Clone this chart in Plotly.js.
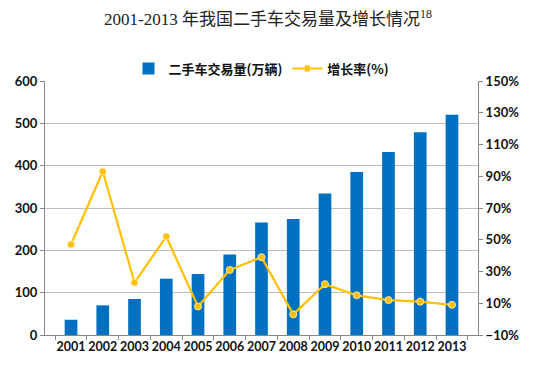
<!DOCTYPE html>
<html>
<head>
<meta charset="utf-8">
<script src="https://cdn.plot.ly/plotly-3.0.1.min.js"></script>
<style>html,body{margin:0;padding:0;background:#fff;}#chart{width:536px;height:380px;}</style>
</head>
<body>
<div id="chart"></div>
<script>
const years = ['2001','2002','2003','2004','2005','2006','2007','2008','2009','2010','2011','2012','2013'];
const volume = [36, 70, 85, 133, 144, 190, 266, 274, 334, 385, 432, 479, 520];
const growth = [47, 93, 23, 52, 8, 31, 39, 3, 22, 15, 12, 11, 9];
const volumeName = '二手车交易量(万辆)';
const growthName = '增长率(%)';
const titleText = '2001-2013 年我国二手车交易量及增长情况<sup>18</sup>';

const tickFont = {family: 'Lato, "Liberation Sans", sans-serif', size: 13, color: '#111', weight: 'bold'};
const xTickFont = {family: 'Lato, "Liberation Sans", sans-serif', size: 12.5, color: '#111', weight: 'bold'};

const traces = [
  {
    type: 'bar', x: years, y: volume, name: volumeName,
    marker: {color: '#0070C0'}, width: 0.4, yaxis: 'y'
  },
  {
    type: 'scatter', mode: 'lines+markers', x: years, y: growth, name: growthName,
    yaxis: 'y2',
    line: {color: '#FFC000', width: 2.2},
    marker: {color: '#FFC000', size: 7, line: {color: '#FFE9A8', width: 1}}
  }
];

const layout = {
  width: 536, height: 380,
  margin: {l: 45, r: 58, t: 81, b: 45},
  paper_bgcolor: '#fff', plot_bgcolor: '#fff',
  title: {
    text: titleText, x: 0.5, xanchor: 'center', y: 0.95, yanchor: 'middle',
    font: {family: '"Liberation Serif", "Noto Sans CJK SC", serif', size: 17, color: '#222'}
  },
  showlegend: true,
  legend: {
    orientation: 'h', x: 0.5, xanchor: 'center', y: 0.99, yanchor: 'bottom',
    yref: 'paper',
    font: {family: '"Noto Sans CJK SC", sans-serif', size: 13, color: '#111', weight: 'bold'},
    itemwidth: 30, traceorder: 'normal', bgcolor: 'rgba(0,0,0,0)'
  },
  xaxis: {
    type: 'category', tickfont: xTickFont, tickangle: 0,
    showline: true, linecolor: '#888', linewidth: 1,
    ticks: 'outside', tickson: 'boundaries', ticklen: 4, tickcolor: '#888',
    showgrid: false, zeroline: false
  },
  yaxis: {
    range: [0, 600], dtick: 100, tickfont: tickFont,
    showline: true, linecolor: '#888', linewidth: 1,
    ticks: 'outside', ticklen: 4, tickcolor: '#888',
    showgrid: true, gridcolor: '#bdbdbd', gridwidth: 1, zeroline: false
  },
  yaxis2: {
    overlaying: 'y', side: 'right', range: [-10, 150], dtick: 20, tick0: -10,
    ticksuffix: '%', tickfont: tickFont,
    showline: true, linecolor: '#888', linewidth: 1,
    ticks: 'outside', ticklen: 4, tickcolor: '#888',
    showgrid: false, zeroline: false
  }
};

Plotly.newPlot('chart', traces, layout, {displayModeBar: false, staticPlot: true});
</script>
</body>
</html>
